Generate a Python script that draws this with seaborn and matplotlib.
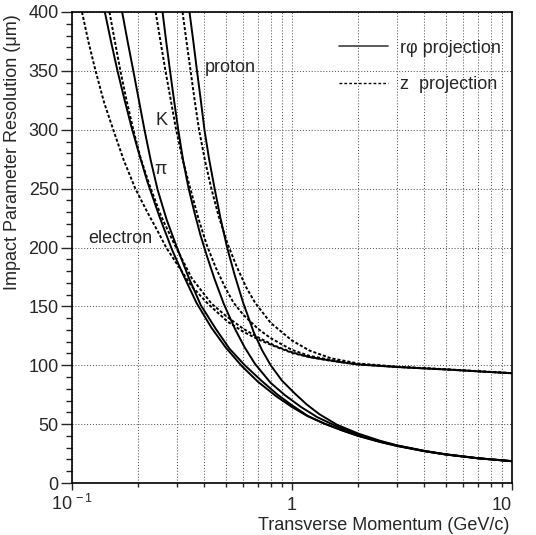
import numpy as np
import pandas as pd
import matplotlib
matplotlib.use("Agg")
import matplotlib.pyplot as plt
import seaborn as sns
from matplotlib.lines import Line2D
from matplotlib.ticker import FixedLocator, NullFormatter, MultipleLocator

# ---- data (p in GeV/c, resolution in um) ----
e_rphi_p = [0.141, 0.15, 0.161, 0.173, 0.186, 0.2, 0.22, 0.25, 0.285, 0.32, 0.368, 0.43, 0.5, 0.59, 0.7, 0.85, 1.0, 1.17, 1.4, 1.7, 2.0, 2.5, 3.0, 4.0, 5.0, 7.0, 10.0]
e_rphi_v = [400, 376, 350, 326, 303, 282, 256, 226, 198, 177, 153, 132, 115, 99.5, 86, 73.5, 64.5, 57, 50.5, 44.5, 40, 35, 31.5, 27, 24.2, 21, 18.5]

pi_rphi_p = [0.169, 0.179, 0.19, 0.2, 0.2135, 0.228, 0.245, 0.27, 0.3, 0.34, 0.385, 0.45, 0.52, 0.61, 0.72, 0.86, 1.0, 1.18, 1.4, 1.7, 2.0, 2.5, 3.0, 4.0, 5.0, 7.0, 10.0]
pi_rphi_v = [400, 375, 350, 328, 300, 274, 249, 223, 200, 174, 151, 131, 114, 100, 87.5, 75, 66, 57, 50.5, 44.5, 40, 35, 31.5, 27, 24.2, 21, 18.5]

k_rphi_p = [0.258, 0.268, 0.279, 0.291, 0.304, 0.32, 0.338, 0.36, 0.383, 0.41, 0.445, 0.49, 0.55, 0.61, 0.68, 0.8, 0.93, 1.1, 1.3, 1.6, 2.0, 2.5, 3.0, 4.0, 5.0, 7.0, 10.0]
k_rphi_v = [400, 375, 350, 325, 300, 274, 251, 230, 211, 193, 173, 152, 131, 115, 101, 85, 74.5, 64.5, 56, 48, 41, 35.5, 31.8, 27.2, 24.3, 21, 18.5]

p_rphi_p = [0.342, 0.356, 0.37, 0.385, 0.40, 0.42, 0.445, 0.473, 0.507, 0.55, 0.6, 0.67, 0.73, 0.8, 0.9, 1.03, 1.17, 1.33, 1.6, 2.0, 2.5, 3.0, 4.0, 5.0, 7.0, 10.0]
p_rphi_v = [400, 375, 350, 325, 300, 275, 250, 225, 200, 176, 153, 128, 113, 100, 87, 76, 66.5, 58.5, 49.5, 42, 36, 32, 27.3, 24.4, 21.1, 18.6]

e_z_p = [0.111, 0.119, 0.128, 0.14, 0.154, 0.172, 0.194, 0.22, 0.245, 0.268, 0.3, 0.35, 0.416, 0.51, 0.6, 0.72, 0.85, 1.0, 1.2, 1.41, 1.7, 2.0, 3.0, 4.0, 5.0, 7.0, 10.0]
e_z_v = [400, 374, 350, 323, 300, 274, 250, 230, 214, 200, 186, 167, 152, 137, 128.5, 121, 115.5, 110.5, 106.8, 104.6, 102.3, 100.6, 98.5, 97.3, 96.4, 94.8, 93.2]

pi_z_p = [0.148, 0.157, 0.166, 0.177, 0.19, 0.205, 0.225, 0.255, 0.29, 0.35, 0.43, 0.5, 0.6, 0.72, 0.85, 1.0, 1.2, 1.41, 1.7, 2.0, 3.0, 4.0, 5.0, 7.0, 10.0]
pi_z_v = [400, 374, 350, 325, 300, 276, 253, 226, 204, 174, 152.5, 142, 131, 122.5, 116, 111, 107, 104.8, 102.4, 100.7, 98.5, 97.3, 96.4, 94.8, 93.2]

k_z_p = [0.24, 0.252, 0.266, 0.28, 0.296, 0.318, 0.345, 0.375, 0.41, 0.45, 0.5, 0.543, 0.6, 0.7, 0.8, 1.0, 1.2, 1.5, 2.0, 3.0, 4.0, 5.0, 7.0, 10.0]
k_z_v = [400, 376, 350, 327, 302, 275, 250, 225, 202, 183, 165, 153, 143, 131, 123, 113, 108, 104.5, 100.8, 98.6, 97.4, 96.5, 94.9, 93.3]

p_z_p = [0.318, 0.332, 0.346, 0.361, 0.378, 0.402, 0.43, 0.465, 0.51, 0.56, 0.62, 0.68, 0.8, 1.0, 1.2, 1.5, 2.0, 3.0, 4.0, 5.0, 7.0, 10.0]
p_z_v = [400, 374, 350, 325, 300, 274, 250, 226, 203, 184, 166, 153, 136, 121, 112.5, 106, 101.5, 98.8, 97.5, 96.6, 95, 93.3]

y_ticks = [0, 50, 100, 150, 200, 250, 300, 350, 400]
x_tick_vals = [0.1, 1, 10]
x_tick_text = [r"$\mathregular{10^{\,-1}}$", "1", "10"]
legend_labels = ["r\u03c6 projection", "z  projection"]
curve_labels = [("proton", 0.402, 352.5), ("K", 0.24, 308), ("\u03c0", 0.236, 266.5), ("electron", 0.118, 207.5)]

series = [
    ("electron", "rphi", e_rphi_p, e_rphi_v),
    ("pion", "rphi", pi_rphi_p, pi_rphi_v),
    ("kaon", "rphi", k_rphi_p, k_rphi_v),
    ("proton", "rphi", p_rphi_p, p_rphi_v),
    ("electron", "z", e_z_p, e_z_v),
    ("pion", "z", pi_z_p, pi_z_v),
    ("kaon", "z", k_z_p, k_z_v),
    ("proton", "z", p_z_p, p_z_v),
]
rows = []
for part, proj, ps, vs in series:
    for p, v in zip(ps, vs):
        rows.append({"p": p, "res": v, "curve": part + "_" + proj, "projection": proj})
df = pd.DataFrame(rows)

sns.set_style("white")
plt.rcParams['font.family'] = ['Liberation Sans', 'DejaVu Sans']
plt.rcParams['mathtext.fontset'] = 'custom'
plt.rcParams['mathtext.rm'] = 'Liberation Sans'
plt.rcParams['mathtext.it'] = 'Liberation Sans'

W, H = 536, 535
fig = plt.figure(figsize=(W / 100, H / 100), dpi=100)
ax = fig.add_axes([72 / W, (H - 483) / H, 440 / W, 471 / H])
ax.set_xscale("log")

sns.lineplot(data=df, x="p", y="res", hue="curve", style="projection",
             palette=["black"] * 8, dashes={"rphi": "", "z": (1.6, 1.0)},
             estimator=None, errorbar=None, sort=False, linewidth=1.4,
             legend=False, ax=ax)

ax.set_xlim(0.1, 10)
ax.set_ylim(0, 400)

# grid
ax.xaxis.set_major_locator(FixedLocator(x_tick_vals))
minor_x = [m * d for d in (0.1, 1) for m in range(2, 10)]
ax.xaxis.set_minor_locator(FixedLocator(minor_x))
ax.xaxis.set_major_formatter(NullFormatter())
ax.xaxis.set_minor_formatter(NullFormatter())
ax.yaxis.set_major_locator(FixedLocator(y_ticks))
ax.yaxis.set_minor_locator(MultipleLocator(10))
gkw = dict(color="0.35", linewidth=0.75, linestyle=(0, (1, 1.8)))
ax.grid(True, which="major", axis="y", **gkw)
ax.grid(True, which="both", axis="x", **gkw)

ax.tick_params(axis="y", which="major", direction="out", length=8, width=1, pad=1.5,
               labelsize=13, left=True)
ax.tick_params(axis="y", which="minor", direction="out", length=4, width=1, left=True)
ax.tick_params(axis="x", which="major", direction="out", length=5, width=1, bottom=True)
ax.tick_params(axis="x", which="minor", direction="out", length=2.8, width=1, bottom=True)
ax.set_yticklabels([str(t) for t in y_ticks])
for s in ax.spines.values():
    s.set_linewidth(1.2)
    s.set_color("black")

xt = ax.get_xaxis_transform()
for val, txt in zip(x_tick_vals, x_tick_text):
    ha = "right" if val == x_tick_vals[-1] else "center"
    ax.text(val, -0.0575, txt, transform=xt, ha=ha, va="baseline", fontsize=13)

ax.set_xlabel("Transverse Momentum (GeV/c)", fontsize=13)
ax.xaxis.set_label_coords(0.995, -0.1)
ax.xaxis.label.set_ha("right")
ax.xaxis.label.set_va("baseline")
ax.set_ylabel("Impact Parameter Resolution (\u03bcm)", fontsize=13)
ax.yaxis.label.set_rotation_mode("anchor")
ax.yaxis.label.set_ha("right")
ax.yaxis.label.set_va("center")
ax.yaxis.set_label_coords(-0.136, 0.995)

for txt, px, py in curve_labels:
    ax.text(px, py, txt, ha="left", va="center", fontsize=13)

handles = [Line2D([], [], color="0.25", lw=1.2),
           Line2D([], [], color="black", lw=1.0, linestyle=(0, (2, 1.5)))]
ax.legend(handles, legend_labels, loc="upper left", bbox_to_anchor=(0.607, 0.941),
          frameon=False, fontsize=13, handlelength=2.71, handletextpad=0.66,
          borderpad=0, borderaxespad=0, labelspacing=1.06)

fig.savefig("out.png", dpi=100, facecolor="white")
